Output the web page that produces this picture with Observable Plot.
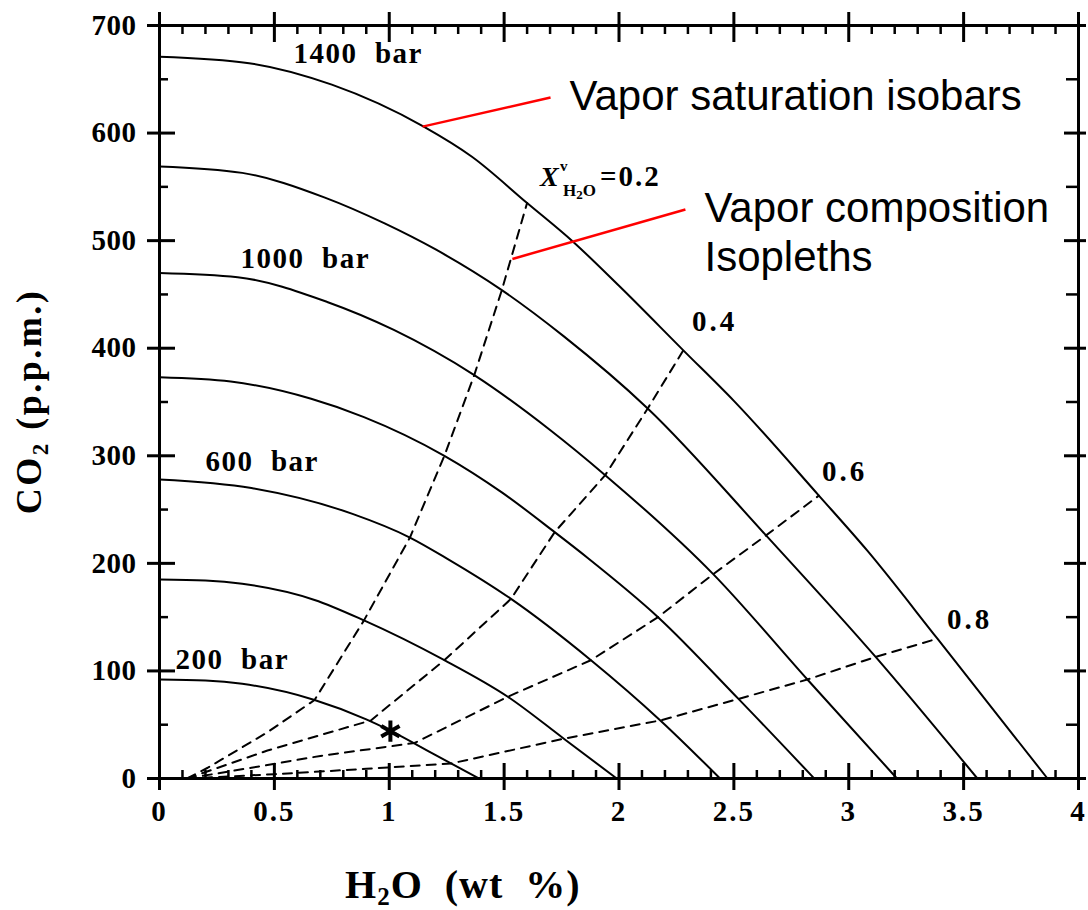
<!DOCTYPE html>
<html>
<head>
<meta charset="utf-8">
<script src="https://cdn.jsdelivr.net/npm/d3@7"></script>
<script src="https://cdn.jsdelivr.net/npm/@observablehq/plot@0.6"></script>
<style>
  html, body { margin: 0; padding: 0; background: #fff; }
  #chart { width: 1088px; height: 910px; }
</style>
</head>
<body>
<div id="chart"></div>
<script>
// Vapor-saturation isobars: [H2O wt %, CO2 ppm] along each pressure
const pressures = [200, 400, 600, 800, 1000, 1200, 1400];
const isobar200 = [[0, 92], [0.2, 91], [0.36, 88], [0.675, 73], [0.9, 55], [1.0, 45], [1.2, 22], [1.39, 0]];
const isobar400 = [[0, 185], [0.2, 184], [0.36, 181], [0.675, 166], [0.89, 147], [1.24, 110], [1.516, 76], [1.76, 37], [1.99, 0]];
const isobar600 = [[0, 278], [0.4, 270], [0.84, 246], [1.09, 224], [1.255, 204], [1.53, 167], [1.878, 110], [2.18, 54], [2.44, 0]];
const isobar800 = [[0, 373], [0.31, 369], [0.66, 353], [0.89, 336], [1.24, 300], [1.49, 266], [1.72, 229], [1.864, 205], [2.17, 150], [2.52, 74], [2.85, 0]];
const isobar1000 = [[0, 470], [0.34, 466], [0.73, 443], [1.02, 417], [1.37, 375], [1.7, 324], [1.94, 282], [2.41, 190], [2.82, 92], [3.21, 0]];
const isobar1200 = [[0, 569], [0.36, 563], [0.72, 540], [0.98, 516], [1.2, 492], [1.49, 454], [1.76, 411], [2.125, 344], [2.64, 226], [3.117, 113], [3.56, 0]];
const isobar1400 = [[0, 671], [0.39, 665], [0.75, 645], [1.15, 606], [1.36, 578], [1.6, 535], [1.8, 499], [2.0, 458], [2.28, 398], [2.5, 351], [2.87, 263], [3.08, 212], [3.386, 130], [3.865, 0]];
const isobars = [isobar200, isobar400, isobar600, isobar800, isobar1000, isobar1200, isobar1400];

// Vapor-composition isopleths (mole fraction of H2O in the vapor)
const vaporFractions = [0.2, 0.4, 0.6, 0.8];
const isopleth02 = [[0.12, 0], [0.21, 10], [0.47, 43], [0.675, 73], [0.89, 147], [1.09, 224], [1.24, 300], [1.37, 375], [1.49, 454], [1.6, 535]];
const isopleth04 = [[0.12, 0], [0.255, 10], [0.47, 26], [0.92, 54], [1.24, 110], [1.53, 167], [1.72, 229], [1.94, 282], [2.125, 344], [2.28, 398]];
const isopleth06 = [[0.12, 0], [0.4, 10], [0.7, 21], [1.11, 33], [1.516, 76], [1.878, 110], [2.17, 150], [2.41, 190], [2.64, 226], [2.87, 263]];
const isopleth08 = [[0.12, 0], [0.5, 4], [0.9, 9], [1.27, 14], [1.76, 37], [2.18, 54], [2.52, 74], [2.82, 92], [3.117, 113], [3.386, 130]];
const isopleths = [isopleth02, isopleth04, isopleth06, isopleth08];

// Marked melt composition
const sample = [[1.005, 44]];

// Axis ticks
const xMajor = [0, 0.5, 1, 1.5, 2, 2.5, 3, 3.5, 4];
const xTickLabels = ["0", "0.5", "1", "1.5", "2", "2.5", "3", "3.5", "4"];
const yMajor = [0, 100, 200, 300, 400, 500, 600, 700];
const yTickLabels = ["0", "100", "200", "300", "400", "500", "600", "700"];
const xMinor = xMajor.slice(1).flatMap((v, i) => [1, 2, 3, 4].map(k => xMajor[i] + k * (v - xMajor[i]) / 5));
const yMinor = yMajor.slice(1).map((v, i) => (v + yMajor[i]) / 2);

// Curve labels
const isobarLabelText = ["1400\u00a0\u00a0bar", "1000\u00a0\u00a0bar", "600\u00a0\u00a0bar", "200\u00a0\u00a0bar"];
const isobarLabelAt = [[0.583, 665], [0.353, 475], [0.2, 286], [0.07, 102]];
const isoplethLabelText = ["0.4", "0.6", "0.8"];
const isoplethLabelAt = [[2.318, 416], [2.884, 277], [3.428, 139]];

// Callouts
const calloutText = ["Vapor saturation isobars", "Vapor composition", "Isopleths"];
const calloutAt = [[1.785, 621], [2.372, 517], [2.372, 472]];
const calloutLeaders = [[[1.145, 606], [1.702, 633]], [[1.536, 483], [2.289, 529]]];

// ---- tables for the marks ----
const isobarRows = isobars.flatMap((pts, i) => pts.map(([h2o, co2]) => ({p: pressures[i], h2o, co2})));
const isoplethRows = isopleths.flatMap((pts, i) => pts.map(([h2o, co2]) => ({xv: vaporFractions[i], h2o, co2})));
const isobarLabels = isobarLabelText.map((text, i) => ({text, h2o: isobarLabelAt[i][0], co2: isobarLabelAt[i][1]}));
const isoplethLabels = isoplethLabelText.map((text, i) => ({text, h2o: isoplethLabelAt[i][0], co2: isoplethLabelAt[i][1]}));
const callouts = calloutText.map((text, i) => ({text, h2o: calloutAt[i][0], co2: calloutAt[i][1]}));
const leaders = calloutLeaders.map(([a, b]) => ({x1: a[0], y1: a[1], x2: b[0], y2: b[1]}));

const W = 1088, H = 910;
const margin = {top: 25, right: 10, bottom: 132, left: 159};
const innerW = W - margin.left - margin.right;
const innerH = H - margin.top - margin.bottom;
const serif = "'Liberation Serif', 'Times New Roman', Times, serif";
const sans = "'Liberation Sans', Arial, Helvetica, sans-serif";

const chart = Plot.plot({
  width: W,
  height: H,
  marginTop: margin.top,
  marginRight: margin.right,
  marginBottom: margin.bottom,
  marginLeft: margin.left,
  style: {fontFamily: serif, fontSize: "29px", fontWeight: "bold", background: "#fff", color: "#000"},
  x: {domain: [0, 4], label: null},
  y: {domain: [0, 700], label: null},
  marks: [
    // isobars
    Plot.line(isobarRows, {x: "h2o", y: "co2", z: "p", stroke: "#000", strokeWidth: 2, curve: "monotone-x"}),
    // isopleths
    Plot.line(isoplethRows, {x: "h2o", y: "co2", z: "xv", stroke: "#000", strokeWidth: 2, strokeDasharray: "9,7"}),
    // frame
    Plot.frame({stroke: "#000", strokeWidth: 3}),
    // bottom / top ticks
    Plot.tickX(xMajor, {x: d => d, stroke: "#000", strokeWidth: 3, insetTop: innerH - 15, insetBottom: -12}),
    Plot.tickX(xMajor, {x: d => d, stroke: "#000", strokeWidth: 3, insetTop: -13, insetBottom: innerH - 17}),
    Plot.tickX(xMinor, {x: d => d, stroke: "#000", strokeWidth: 2.5, insetTop: innerH - 8, insetBottom: 0}),
    Plot.tickX(xMinor, {x: d => d, stroke: "#000", strokeWidth: 2.5, insetTop: 0, insetBottom: innerH - 9}),
    // left / right ticks
    Plot.tickY(yMajor, {y: d => d, stroke: "#000", strokeWidth: 3, insetLeft: -12, insetRight: innerW - 16}),
    Plot.tickY(yMajor, {y: d => d, stroke: "#000", strokeWidth: 3, insetLeft: innerW - 14, insetRight: -8}),
    Plot.tickY(yMinor, {y: d => d, stroke: "#000", strokeWidth: 2.5, insetLeft: 0, insetRight: innerW - 9}),
    Plot.tickY(yMinor, {y: d => d, stroke: "#000", strokeWidth: 2.5, insetLeft: innerW - 12, insetRight: 0}),
    // tick labels
    Plot.axisX({anchor: "bottom", ticks: xMajor, tickSize: 0, tickPadding: 22, tickFormat: d => xTickLabels[xMajor.indexOf(d)], fontSize: 29, fontWeight: "bold"}),
    Plot.axisY({anchor: "left", ticks: yMajor, tickSize: 0, tickPadding: 23, tickFormat: d => yTickLabels[yMajor.indexOf(d)], fontSize: 29, fontWeight: "bold"}),
    // curve labels
    Plot.text(isobarLabels, {x: "h2o", y: "co2", text: "text", textAnchor: "start", lineAnchor: "bottom", fontSize: 29, fontWeight: "bold", fontFamily: serif}),
    Plot.text(isoplethLabels, {x: "h2o", y: "co2", text: "text", textAnchor: "start", lineAnchor: "bottom", fontSize: 29, fontWeight: "bold", fontFamily: serif}),
    // melt composition marker
    Plot.dot(sample, {x: d => d[0], y: d => d[1], symbol: "asterisk", r: 10, stroke: "#000", strokeWidth: 4}),
    // callouts
    Plot.link(leaders, {x1: "x1", y1: "y1", x2: "x2", y2: "y2", stroke: "#ff0000", strokeWidth: 2.5}),
    Plot.text(callouts, {x: "h2o", y: "co2", text: "text", textAnchor: "start", lineAnchor: "bottom", fontSize: 42, fontWeight: "normal", fontFamily: sans})
  ]
});

document.getElementById("chart").appendChild(chart);

const xs = chart.scale("x"), ys = chart.scale("y");
const svg = d3.select(chart);

// Wider letter spacing for the bold serif labels
svg.selectAll('g[aria-label="text"] text').each(function () {
  const s = this.textContent;
  if (isobarLabelText.includes(s)) this.setAttribute("letter-spacing", "1.5");
  else if (isoplethLabelText.includes(s)) this.setAttribute("letter-spacing", "3");
});
svg.selectAll('g[aria-label="x-axis tick label"] text').attr("letter-spacing", "2");
svg.selectAll('g[aria-label="y-axis tick label"] text').attr("letter-spacing", "0.5");

// X^v_H2O = 0.2 on the first isopleth
{
  const x0 = xs.apply(1.658), y0 = ys.apply(550);
  const g = svg.append("g").attr("font-family", serif).attr("font-weight", "bold")
    .attr("fill", "#000").attr("text-anchor", "start");
  g.append("text").attr("x", x0).attr("y", y0).attr("font-size", 28).attr("font-style", "italic").text("X");
  g.append("text").attr("x", x0 + 20).attr("y", y0 - 15).attr("font-size", 15).text("v");
  const sub = g.append("text").attr("x", x0 + 23).attr("y", y0 + 10).attr("font-size", 17);
  sub.append("tspan").text("H");
  sub.append("tspan").attr("font-size", 13).attr("dy", 3).text("2");
  sub.append("tspan").attr("dy", -3).text("O");
  g.append("text").attr("x", x0 + 60).attr("y", y0).attr("font-size", 29).attr("letter-spacing", 2).text("=0.2");
}

// Axis titles
{
  const t = svg.append("text")
    .attr("x", margin.left + 186).attr("y", margin.top + innerH + 120)
    .attr("text-anchor", "start")
    .attr("font-family", serif).attr("font-weight", "bold").attr("font-size", 40)
    .attr("letter-spacing", 1).attr("fill", "#000");
  t.append("tspan").text("H");
  t.append("tspan").attr("font-size", 25).attr("dy", 7).text("2");
  t.append("tspan").attr("dy", -7).text("O\u00a0\u00a0(wt\u00a0\u00a0%)");

  const yt = svg.append("text")
    .attr("transform", `translate(41,${(ys.apply(0) + ys.apply(700)) / 2}) rotate(-90)`)
    .attr("text-anchor", "middle")
    .attr("font-family", serif).attr("font-weight", "bold").attr("font-size", 36)
    .attr("letter-spacing", 2.5).attr("fill", "#000");
  yt.append("tspan").text("CO");
  yt.append("tspan").attr("font-size", 23).attr("dy", 7).text("2");
  yt.append("tspan").attr("dy", -7).text("\u00a0(p.p.m.)");
}
</script>
</body>
</html>
